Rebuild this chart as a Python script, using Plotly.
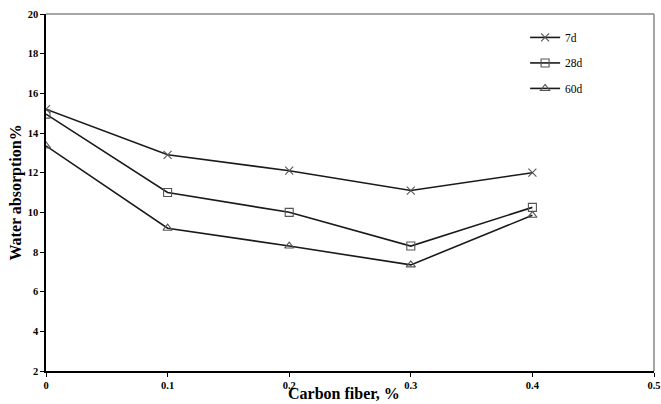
import plotly.graph_objects as go

carbon_fiber = [0, 0.1, 0.2, 0.3, 0.4]
series_names = ["7d", "28d", "60d"]
wa_7d = [15.2, 12.9, 12.1, 11.1, 12.0]
wa_28d = [14.95, 11.0, 10.0, 8.3, 10.25]
wa_60d = [13.35, 9.2, 8.3, 7.35, 9.85]
x_ticks = [0, 0.1, 0.2, 0.3, 0.4, 0.5]
y_ticks = [2, 4, 6, 8, 10, 12, 14, 16, 18, 20]

symbols = ["x-thin-open", "square-open", "triangle-up-open"]
values = [wa_7d, wa_28d, wa_60d]

font_family = "Liberation Serif, Times New Roman, serif"
fig = go.Figure()
for i, (name, vals, sym) in enumerate(zip(series_names, values, symbols)):
    fig.add_trace(go.Scatter(
        x=carbon_fiber, y=vals, name=name, mode="lines+markers",
        line=dict(color="#1a1a1a", width=1.6),
        marker=dict(symbol=sym, size=8, color="#555555",
                    line=dict(color="#555555", width=1.1)),
        legendgroup=name,
    ))

fig.update_layout(
    width=661, height=404,
    margin=dict(l=46, r=7, t=14, b=33),
    paper_bgcolor="white", plot_bgcolor="white",
    font=dict(family=font_family, color="black"),
    showlegend=True,
    legend=dict(x=0.788, y=0.975, xanchor="left", yanchor="top",
                font=dict(family=font_family, size=11.5, color="black"),
                bgcolor="rgba(0,0,0,0)", itemwidth=30, tracegroupgap=6.5),
    xaxis=dict(range=[0, 0.5], tickvals=x_ticks, ticktext=[str(v) for v in x_ticks],
               showgrid=False, zeroline=False, showline=True, linecolor="black",
               linewidth=1.5, ticks="outside", ticklen=4, tickcolor="black",
               tickfont=dict(family=font_family, size=10.5, color="black", weight="bold"),
               automargin=False),
    yaxis=dict(range=[2, 20], tickvals=y_ticks,
               showgrid=False, zeroline=False, showline=True, linecolor="black",
               linewidth=1.5, ticks="outside", ticklen=4, tickcolor="black",
               tickfont=dict(family=font_family, size=10.5, color="black", weight="bold"),
               automargin=False),
    annotations=[
        dict(text="<b>Carbon fiber, %</b>", xref="paper", yref="paper", x=0.49, y=0,
             xanchor="center", yanchor="middle", yshift=-22, showarrow=False,
             font=dict(family=font_family, size=16, color="black")),
        dict(text="<b>Water absorption%</b>", xref="paper", yref="paper", x=0, y=0.5,
             xanchor="center", yanchor="middle", xshift=-31, textangle=-90,
             showarrow=False, font=dict(family=font_family, size=16, color="black")),
    ],
    shapes=[
        dict(type="line", xref="paper", yref="paper", x0=0, x1=1, y0=1, y1=1,
             line=dict(color="#888888", width=1.5)),
        dict(type="line", xref="paper", yref="paper", x0=1, x1=1, y0=0, y1=1,
             line=dict(color="#888888", width=1.5)),
    ],
)

fig.write_html("out.html", config={"displayModeBar": False},
               post_script="document.body.style.margin='0';")
